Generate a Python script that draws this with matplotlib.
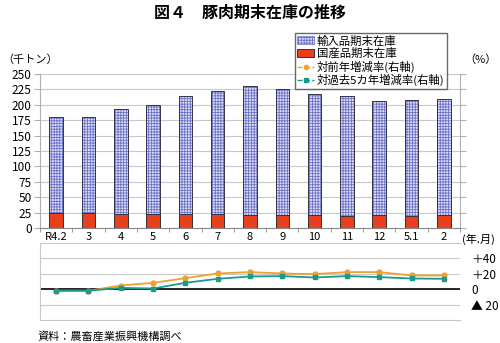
import matplotlib
matplotlib.use('Agg')
import matplotlib.pyplot as plt
from matplotlib.lines import Line2D
from matplotlib.patches import Patch

plt.rcParams['font.family'] = ['Noto Sans CJK JP', 'DejaVu Sans']
plt.rcParams['hatch.linewidth'] = 0.6

months = ['R4.2', '3', '4', '5', '6', '7', '8', '9', '10', '11', '12', '5.1', '2']
total = [180, 181, 193, 200, 214, 222, 230, 225, 217, 215, 206, 208, 210]
domestic = [24, 25, 23, 23.5, 22.5, 22.5, 20.5, 20.5, 21, 19.5, 21, 19, 20.5]
imported = [t - d for t, d in zip(total, domestic)]
yoy = [-2, -2, 4.8, 8.3, 14.3, 20.4, 22.2, 20.4, 19.6, 22.2, 22.2, 17.8, 17.8]
vs5y = [-2, -2, 1.7, 0.9, 8.3, 13.5, 16.5, 17, 15.2, 17, 15.7, 13.9, 13.5]

x = list(range(len(months)))
grey = '#b0b0b0'
imp_face = '#dcdef6'
imp_hatch = '#6c72c8'

fig = plt.figure(figsize=(5, 3.43), dpi=100)

# main bar panel
ax = fig.add_axes([40/500, 115/343, 420/500, 154/343])
ax.bar(x, domestic, width=0.42, color='#e8401c', edgecolor='#333333', linewidth=0.7, zorder=3)
ax.bar(x, imported, width=0.42, bottom=domestic, color=imp_face, edgecolor=imp_hatch,
       hatch='++++++', linewidth=0, zorder=3)
ax.bar(x, imported, width=0.42, bottom=domestic, fill=False, edgecolor='#333344',
       linewidth=0.7, zorder=4)
ax.set_xlim(-0.5, 12.5)
ax.set_ylim(0, 250)
ax.set_yticks(range(0, 251, 25))
ax.set_xticks([i - 0.5 for i in range(14)], minor=True)
ax.set_xticks(x)
ax.set_xticklabels(months)
ax.tick_params(axis='x', which='major', length=0, labelsize=8, pad=3)
ax.tick_params(axis='x', which='minor', length=3, color='#888888')
ax.tick_params(axis='y', length=4, color=grey, labelsize=8.5, pad=2)
ax.tick_params(axis='y', which='both', right=True, labelright=False, direction='out')
ax.grid(axis='y', color='#c8c8c8', linewidth=0.8, zorder=0)
for s in ['left', 'right', 'bottom']:
    ax.spines[s].set_color(grey)
ax.spines['bottom'].set_color('#888888')
ax.spines['top'].set_visible(False)

# lower rate panel
ax2 = fig.add_axes([40/500, 23/343, 420/500, 77/343])
ax2.plot(x, yoy, color='#f0a030', marker='o', markersize=3.5, linewidth=1.3, zorder=3)
ax2.plot(x, vs5y, color='#1a9a8c', marker='s', markersize=3.5, linewidth=1.3, zorder=3)
ax2.axhline(0, color='black', linewidth=1.2, zorder=2)
for v in [-20, 20, 40]:
    ax2.axhline(v, color='#c8c8c8', linewidth=0.8, zorder=1)
ax2.set_xlim(-0.5, 12.5)
ax2.set_ylim(-40, 60)
ax2.set_xticks([])
ax2.yaxis.tick_right()
ax2.set_yticks([-20, 0, 20, 40])
ax2.set_yticklabels(['▲ 20', '0', '＋20', '＋40'])
ax2.tick_params(axis='y', length=0, labelsize=8.5, pad=8)
for lab in ax2.get_yticklabels():
    lab.set_horizontalalignment('left')
for s in ['left', 'bottom', 'top']:
    ax2.spines[s].set_color('#c8c8c8')
ax2.spines['right'].set_visible(False)

# legend
handles = [
    Patch(facecolor=imp_face, edgecolor=imp_hatch, hatch='++++++', linewidth=0.5),
    Patch(facecolor='#e8401c', edgecolor='#333333', linewidth=0.7),
    Line2D([], [], color='#f0a030', marker='o', markersize=3, linestyle='--', linewidth=1),
    Line2D([], [], color='#1a9a8c', marker='s', markersize=3, linestyle='--', linewidth=1),
]
labels = ['輸入品期末在庫', '国産品期末在庫', '対前年増減率(右軸)', '対過去5カ年増減率(右軸)']
fig.legend(handles, labels, loc='upper left', bbox_to_anchor=(295/500, 1 - 33/343),
           fontsize=8.2, frameon=True, fancybox=False, edgecolor='#444444',
           handlelength=1.5, handletextpad=0.2, labelspacing=0.12, borderpad=0.2,
           borderaxespad=0)

fig.text(0.5, 1 - 13/343, '図４　豚肉期末在庫の推移', ha='center', va='center',
         fontsize=11.5, fontweight='bold')
fig.text(2/500, 1 - 60/343, '（千トン）', ha='left', va='center', fontsize=8)
fig.text(497/500, 1 - 60/343, '（%）', ha='right', va='center', fontsize=8)
fig.text(462/500, 1 - 239/343, '(年.月)', ha='left', va='center', fontsize=8)
fig.text(37/500, 1 - 336/343, '資料：農畜産業振興機構調べ', ha='left', va='center', fontsize=8)

fig.savefig('out.png', dpi=100)
